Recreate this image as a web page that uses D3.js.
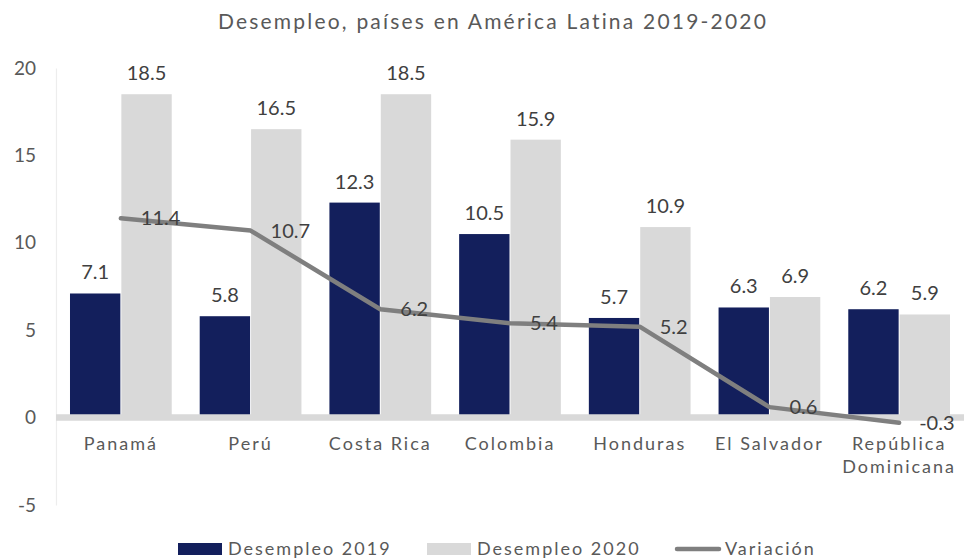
<!DOCTYPE html>
<html>
<head>
<meta charset="utf-8">
<script src="https://cdnjs.cloudflare.com/ajax/libs/d3/7.8.5/d3.min.js"></script>
<style>
  body { margin: 0; background: #fff; }
  text { font-family: Lato, "Open Sans", sans-serif; }
</style>
</head>
<body>
<script>
//data
var paises = ["Panamá", "Perú", "Costa Rica", "Colombia", "Honduras", "El Salvador", "República Dominicana"];
var desempleo2019 = [7.1, 5.8, 12.3, 10.5, 5.7, 6.3, 6.2];
var desempleo2020 = [18.5, 16.5, 18.5, 15.9, 10.9, 6.9, 5.9];
var variacion = [11.4, 10.7, 6.2, 5.4, 5.2, 0.6, -0.3];
var yTicks = [-5, 0, 5, 10, 15, 20];
var series = ["Desempleo 2019", "Desempleo 2020"];

//SVG area dimensions
var svgWidth = 964;
var svgHeight = 560;

var chartMargin = {
  top: 68,
  right: 0,
  bottom: 55,
  left: 56
};

var chartWidth = svgWidth - chartMargin.left - chartMargin.right;
var chartHeight = 505 - chartMargin.top;

var colors = ["#131f5c", "#d9d9d9"];
var lineColor = "#7f7f7f";
var textColor = "#595959";
var labelColor = "#404040";

var svg = d3.select("body")
  .append("svg")
  .attr("width", svgWidth)
  .attr("height", svgHeight);

var chartGroup = svg.append("g")
  .attr("transform", `translate(${chartMargin.left}, ${chartMargin.top})`);

//scales
var xScale = d3.scaleBand()
  .domain(paises)
  .range([0, chartWidth])
  .paddingInner(0.208)
  .paddingOuter(0.104);

var xSub = d3.scaleBand()
  .domain(series)
  .range([0, xScale.bandwidth()]);

var yScale = d3.scaleLinear()
  .domain([-5, 20])
  .range([chartHeight, 0]);

//title
svg.append("text")
  .attr("x", 493)
  .attr("y", 29)
  .attr("text-anchor", "middle")
  .attr("fill", textColor)
  .style("font-size", "21px")
  .style("letter-spacing", "2.2px")
  .text("Desempleo, países en América Latina 2019-2020");

//y axis labels
var leftAxis = d3.axisLeft(yScale)
  .tickValues(yTicks)
  .tickFormat(d => String(d))
  .tickSize(0)
  .tickPadding(20);

var yAxis = chartGroup.append("g")
  .call(leftAxis);

yAxis.select(".domain")
  .attr("stroke", "#ededed")
  .attr("stroke-width", 1.2);

yAxis.selectAll(".tick text")
  .attr("fill", textColor)
  .style("font-size", "19px")
  .style("font-family", "Lato, sans-serif");

//bars
var groups = chartGroup.selectAll(".grupo")
  .data(paises)
  .enter()
  .append("g")
  .attr("class", "grupo")
  .attr("transform", d => `translate(${xScale(d)}, 0)`);

var barData = function(d, i) {
  return [
    {serie: series[0], value: desempleo2019[i], color: colors[0]},
    {serie: series[1], value: desempleo2020[i], color: colors[1]}
  ];
};

groups.selectAll("rect")
  .data(barData)
  .enter()
  .append("rect")
  .attr("x", d => xSub(d.serie) + 0.5)
  .attr("width", xSub.bandwidth() - 1)
  .attr("y", d => yScale(d.value))
  .attr("height", d => yScale(0) - yScale(d.value))
  .attr("fill", d => d.color);

groups.selectAll(".barLabel")
  .data(barData)
  .enter()
  .append("text")
  .attr("class", "barLabel")
  .attr("x", d => xSub(d.serie) + xSub.bandwidth() / 2)
  .attr("y", d => yScale(d.value) - 14)
  .attr("text-anchor", "middle")
  .attr("fill", labelColor)
  .style("font-size", "20px")
  .text(d => d.value.toFixed(1));

//zero line
chartGroup.append("line")
  .attr("x1", 0)
  .attr("x2", chartWidth)
  .attr("y1", yScale(0))
  .attr("y2", yScale(0))
  .attr("stroke", "#d9d9d9")
  .attr("stroke-width", 6.5);

//x axis labels
var bottomAxis = d3.axisBottom(xScale)
  .tickSize(0)
  .tickPadding(0);

var xAxis = chartGroup.append("g")
  .attr("transform", `translate(0, ${yScale(0)})`)
  .call(bottomAxis);

xAxis.select(".domain").remove();

xAxis.selectAll(".tick text")
  .attr("fill", textColor)
  .style("font-size", "18px")
  .style("letter-spacing", "2px")
  .style("font-family", "Lato, sans-serif")
  .attr("y", 32)
  .attr("dy", null)
  .each(function(d) {
    var words = d.split(" ");
    var el = d3.select(this);
    if (d === "República Dominicana") {
      el.text(null);
      words.forEach(function(w, i) {
        el.append("tspan")
          .attr("x", 0)
          .attr("dy", i === 0 ? 0 : 23)
          .text(w);
      });
    }
  });

//variation line
var line = d3.line()
  .x((d, i) => xScale(paises[i]) + xScale.bandwidth() / 2)
  .y(d => yScale(d));

chartGroup.append("path")
  .datum(variacion)
  .attr("d", line)
  .attr("fill", "none")
  .attr("stroke", lineColor)
  .attr("stroke-width", 4.5)
  .attr("stroke-linecap", "round")
  .attr("stroke-linejoin", "round");

chartGroup.selectAll(".lineLabel")
  .data(variacion)
  .enter()
  .append("text")
  .attr("class", "lineLabel")
  .attr("x", (d, i) => xScale(paises[i]) + xScale.bandwidth() / 2 + 20)
  .attr("y", d => yScale(d))
  .attr("dy", "0.35em")
  .attr("fill", labelColor)
  .style("font-size", "20px")
  .text(d => d.toFixed(1));

//legend
var legendItems = [
  {label: "Desempleo 2019", color: colors[0], type: "rect", x: 178},
  {label: "Desempleo 2020", color: colors[1], type: "rect", x: 427},
  {label: "Variación", color: lineColor, type: "line", x: 675}
];

var legend = svg.append("g")
  .attr("transform", "translate(0, 549)");

var legendGroup = legend.selectAll("g")
  .data(legendItems)
  .enter()
  .append("g")
  .attr("transform", d => `translate(${d.x}, 0)`);

legendGroup.filter(d => d.type === "rect")
  .append("rect")
  .attr("x", 0)
  .attr("y", -6)
  .attr("width", 44)
  .attr("height", 12)
  .attr("fill", d => d.color);

legendGroup.filter(d => d.type === "line")
  .append("line")
  .attr("x1", 2)
  .attr("x2", 44)
  .attr("y1", 0)
  .attr("y2", 0)
  .attr("stroke", d => d.color)
  .attr("stroke-width", 4.5)
  .attr("stroke-linecap", "round");

legendGroup.append("text")
  .attr("x", 50)
  .attr("y", 0)
  .attr("dy", "0.35em")
  .attr("fill", textColor)
  .style("font-size", "18px")
  .style("letter-spacing", "2px")
  .text(d => d.label);
</script>
</body>
</html>
